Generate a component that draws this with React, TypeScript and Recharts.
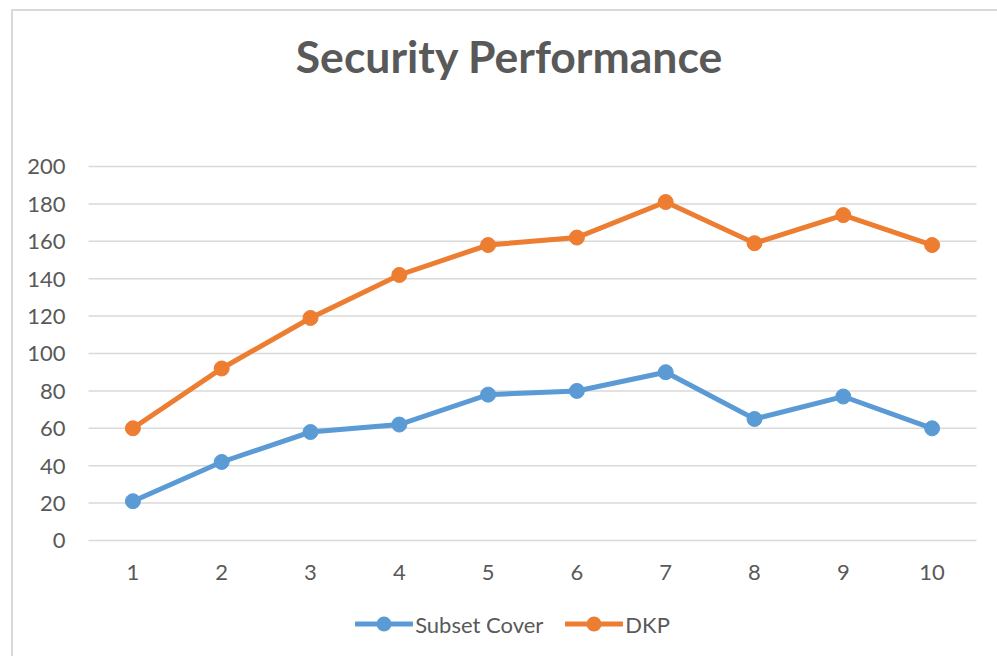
import React from "react";
import { LineChart, Line, XAxis, YAxis, CartesianGrid, Legend } from "recharts";

const rounds = ["1", "2", "3", "4", "5", "6", "7", "8", "9", "10"];
const seriesNames = ["Subset Cover", "DKP"];
const subsetCover = [21, 42, 58, 62, 78, 80, 90, 65, 77, 60];
const dkp = [60, 92, 119, 142, 158, 162, 181, 159, 174, 158];
const yTicks = [0, 20, 40, 60, 80, 100, 120, 140, 160, 180, 200];

const data = rounds.map((r, i) => ({
  round: r,
  subset: subsetCover[i],
  dkp: dkp[i],
}));

const FONT = "Lato, 'Open Sans', sans-serif";
const TEXT = "#595959";
const BLUE = "#5B9BD5";
const ORANGE = "#ED7D31";

function LegendContent(props: any) {
  const items = [...(props.payload || [])].sort(
    (a: any, b: any) => seriesNames.indexOf(a.value) - seriesNames.indexOf(b.value)
  );
  return (
    <div
      style={{
        display: "flex",
        justifyContent: "center",
        alignItems: "center",
        height: 30,
        fontFamily: FONT,
        fontSize: 22,
        color: TEXT,
      }}
    >
      {items.map((it: any, i: number) => (
        <div
          key={it.value}
          style={{ display: "flex", alignItems: "center", marginLeft: i ? 22 : 0 }}
        >
          <svg width={58} height={20} style={{ marginRight: 2 }}>
            <line x1={1} y1={10} x2={57} y2={10} stroke={it.color} strokeWidth={5} strokeLinecap="round" />
            <circle cx={29} cy={10} r={7.5} fill={it.color} />
          </svg>
          <span>{it.value}</span>
        </div>
      ))}
    </div>
  );
}

export default function App() {
  return (
    <div
      style={{
        position: "absolute",
        left: 0,
        top: 0,
        width: 997,
        height: 656,
        overflow: "hidden",
        background: "#fff",
      }}
    >
      <div
        style={{
          position: "absolute",
          left: 11,
          top: 9,
          width: 1010,
          height: 670,
          border: "2px solid #d9d9d9",
        }}
      />
      <svg width={997} height={100} style={{ position: "absolute", left: 0, top: 0 }}>
        <text
          x={509}
          y={73}
          textAnchor="middle"
          fontFamily={FONT}
          fontWeight="bold"
          fontSize={44.5}
          fill={TEXT}
        >
          Security Performance
        </text>
      </svg>
      <div style={{ position: "absolute", left: 0, top: 0 }}>
        <LineChart
          width={997}
          height={656}
          data={data}
          margin={{ top: 166.5, right: 20.5, bottom: 45.5, left: 0 }}
        >
          <CartesianGrid vertical={false} stroke="#d9d9d9" strokeWidth={1.5} />
          <XAxis
            dataKey="round"
            axisLine={false}
            tickLine={false}
            height={40}
            tickMargin={18}
            padding={{ left: 44.4, right: 44.4 }}
            tick={{ fill: TEXT, fontSize: 22, fontFamily: FONT }}
          />
          <YAxis
            width={88.5}
            domain={[0, 200]}
            ticks={yTicks}
            axisLine={false}
            tickLine={false}
            tickMargin={17}
            tick={{ fill: TEXT, fontSize: 22, fontFamily: FONT }}
          />
          <Legend
            verticalAlign="bottom"
            content={<LegendContent />}
            wrapperStyle={{ top: 609, left: 14, width: 997 }}
          />
          <Line
            name="Subset Cover"
            dataKey="subset"
            stroke={BLUE}
            strokeWidth={5}
            dot={{ r: 7.5, fill: BLUE, stroke: BLUE, strokeWidth: 1 }}
            activeDot={false}
            isAnimationActive={false}
          />
          <Line
            name="DKP"
            dataKey="dkp"
            stroke={ORANGE}
            strokeWidth={5}
            dot={{ r: 7.5, fill: ORANGE, stroke: ORANGE, strokeWidth: 1 }}
            activeDot={false}
            isAnimationActive={false}
          />
        </LineChart>
      </div>
    </div>
  );
}
